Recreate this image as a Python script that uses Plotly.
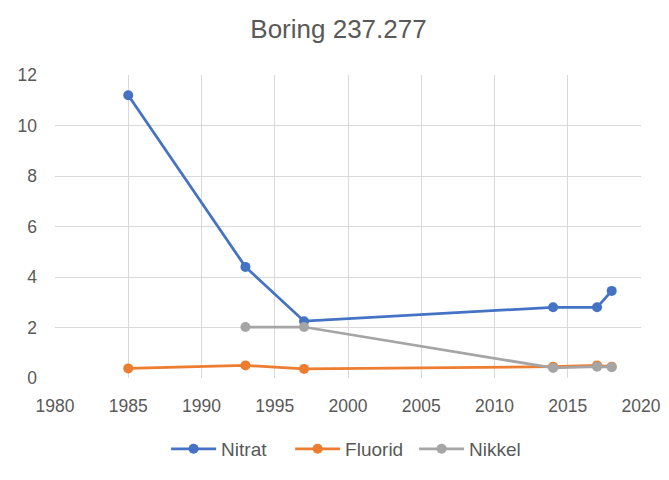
import plotly.graph_objects as go

years_nitrat = [1985, 1993, 1997, 2014, 2017, 2018]
nitrat = [11.2, 4.4, 2.25, 2.8, 2.8, 3.45]
years_fluorid = [1985, 1993, 1997, 2014, 2017, 2018]
fluorid = [0.38, 0.5, 0.36, 0.45, 0.5, 0.45]
years_nikkel = [1993, 1997, 2014, 2017, 2018]
nikkel = [2.02, 2.02, 0.4, 0.45, 0.43]

series = [
    ("Nitrat", years_nitrat, nitrat, "#4472C4"),
    ("Fluorid", years_fluorid, fluorid, "#ED7D31"),
    ("Nikkel", years_nikkel, nikkel, "#A5A5A5"),
]

fig = go.Figure()
for name, xs, ys, col in series:
    fig.add_trace(go.Scatter(
        x=xs, y=ys, name=name, mode="lines+markers",
        line=dict(color=col, width=2.75),
        marker=dict(color=col, size=10),
    ))

font_fam = "Liberation Sans, Arial, sans-serif"
fig.update_layout(
    width=661, height=472,
    margin=dict(l=47, r=28, t=67, b=102),
    paper_bgcolor="white", plot_bgcolor="white",
    font=dict(family=font_fam, size=17.5, color="#595959"),
    title=dict(text="Boring 237.277", x=0.5, xanchor="center", y=0.9555, yanchor="middle",
               font=dict(size=26, color="#595959", family=font_fam)),
    xaxis=dict(range=[1980, 2020], tick0=1980, dtick=5, showgrid=True,
               gridcolor="#D9D9D9", gridwidth=1, zeroline=False, showline=False,
               ticks="", automargin=False, ticklabelstandoff=15,
               tickfont=dict(size=17.5, color="#595959")),
    yaxis=dict(range=[0, 12], dtick=2, showgrid=True, gridcolor="#D9D9D9",
               gridwidth=1, zeroline=False, showline=False, ticks="",
               automargin=False, ticklabelstandoff=17,
               tickfont=dict(size=17.5, color="#595959")),
    legend=dict(orientation="h", x=0.507, xanchor="center", y=-0.234, yanchor="middle",
                font=dict(size=19, color="#595959"), itemwidth=45, entrywidth=64),
    showlegend=True,
)
fig.write_html("out.html")
